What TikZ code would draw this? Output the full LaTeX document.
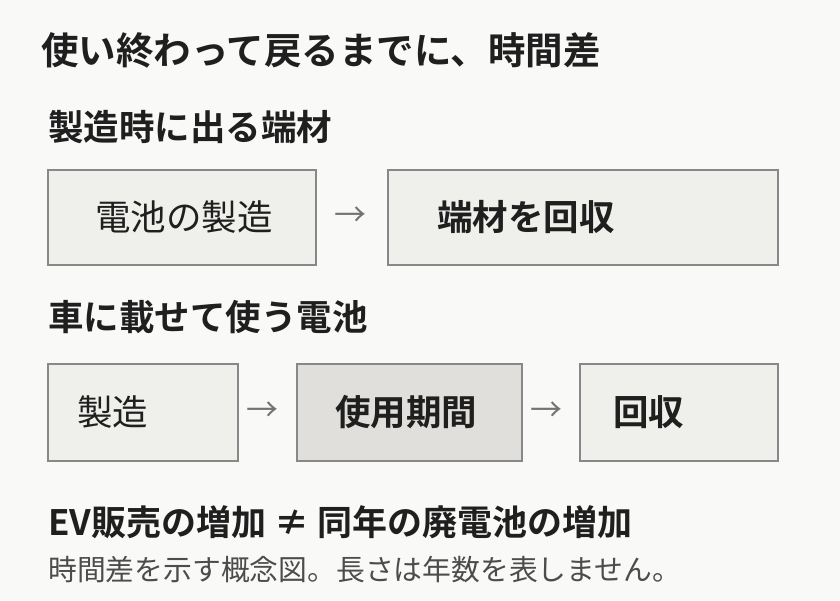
\documentclass[tikz,border=0pt]{standalone}
\usepackage{fontspec}
\setmainfont{Noto Sans CJK JP}[BoldFont={Noto Sans CJK JP Bold}]
\definecolor{bg}{RGB}{249,249,247}
\definecolor{bx}{RGB}{239,239,235}
\definecolor{bxd}{RGB}{224,223,219}
\definecolor{ln}{RGB}{136,136,136}
\begin{document}
\begin{tikzpicture}[x=1pt,y=-1pt,
 box/.style={draw=ln,line width=1.2pt,fill=bx,inner sep=0},
 t/.style={anchor=west,inner sep=0,text=black!88},
 arr/.style={inner sep=0,text=black!55,font=\fontsize{32}{32}\selectfont}]
\fill[bg] (0,0) rectangle (840,600);
\useasboundingbox (0,0) rectangle (840,600);
\node[t,font=\fontsize{37.5}{37.5}\selectfont\bfseries] (title) at (41,50) {使い終わって戻るまでに、時間差};
\node[t,font=\fontsize{35.5}{35.5}\selectfont\bfseries] (h1) at (48,127) {製造時に出る端材};
\draw[box] (48,170) rectangle (316,265);
\node[t,font=\fontsize{35.5}{35.5}\selectfont] (b1) at (95,217) {電池の製造};
\node[arr] (a1) at (350,217) {→};
\draw[box] (388,170) rectangle (778,265);
\node[t,font=\fontsize{35.5}{35.5}\selectfont\bfseries] (b2) at (437,217) {端材を回収};
\node[t,font=\fontsize{35.5}{35.5}\selectfont\bfseries] (h2) at (48,317) {車に載せて使う電池};
\draw[box] (48,364) rectangle (238,461);
\node[t,font=\fontsize{35.5}{35.5}\selectfont] (b3) at (77,412) {製造};
\node[arr] (a2) at (262,412) {→};
\draw[box,fill=bxd] (297,364) rectangle (522,461);
\node[t,font=\fontsize{35.5}{35.5}\selectfont\bfseries] (b4) at (335,412) {使用期間};
\node[arr] (a3) at (546,412) {→};
\draw[box] (580,364) rectangle (778,461);
\node[t,font=\fontsize{35.5}{35.5}\selectfont\bfseries] (b5) at (613,412) {回収};
\node[t,font=\fontsize{35}{35}\selectfont\bfseries] (n1) at (48,522) {EV販売の増加 ≠ 同年の廃電池の増加};
\node[t,text=black!70,font=\fontsize{28.8}{28.8}\selectfont] (n2) at (48,570) {時間差を示す概念図。長さは年数を表しません。};
\end{tikzpicture}
\end{document}
